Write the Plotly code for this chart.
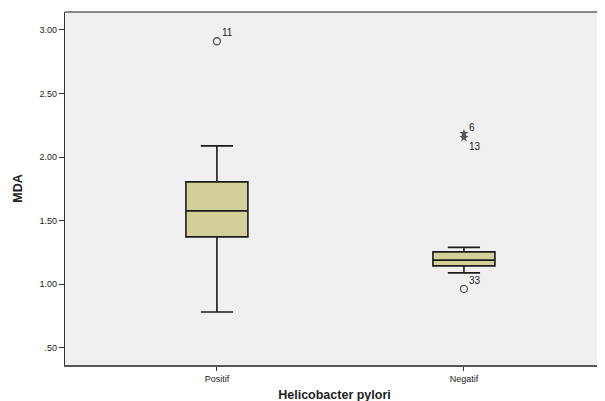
import plotly.graph_objects as go

categories = ["Positif", "Negatif"]
q1 = [1.373, 1.145]
median = [1.577, 1.19]
q3 = [1.805, 1.255]
lower_whisker = [0.783, 1.09]
upper_whisker = [2.088, 1.29]

outlier_cat = [0, 1]
outlier_val = [2.91, 0.964]
outlier_lbl = ["11", "33"]

extreme_cat = [1, 1]
extreme_val = [2.185, 2.153]
extreme_lbl = ["6", "13"]

ytick_vals = [0.5, 1.0, 1.5, 2.0, 2.5, 3.0]
ytick_text = [".50", "1.00", "1.50", "2.00", "2.50", "3.00"]

fig = go.Figure()

fig.add_trace(go.Box(
    x=[0, 1], q1=q1, median=median, q3=q3,
    lowerfence=lower_whisker, upperfence=upper_whisker,
    width=0.251, whiskerwidth=0.52,
    fillcolor="#d3cf98", line=dict(color="#1c1c1c", width=1.6),
    boxpoints=False, showlegend=False, hoverinfo="skip",
))

fig.add_trace(go.Scatter(
    x=outlier_cat, y=outlier_val, mode="markers",
    marker=dict(symbol="circle-open", size=7, color="#555555", line=dict(width=1.3)),
    showlegend=False, hoverinfo="skip",
))
fig.add_trace(go.Scatter(
    x=extreme_cat, y=extreme_val, mode="markers",
    marker=dict(symbol="star", size=7, color="#555555"),
    showlegend=False, hoverinfo="skip",
))

text_font = dict(family="Liberation Sans, Arial, sans-serif", size=10, color="#222222")
for c, v, t in zip(outlier_cat, outlier_val, outlier_lbl):
    fig.add_annotation(x=c, y=v, text=t, showarrow=False, xanchor="left", yanchor="bottom",
                       xshift=3, yshift=1, font=text_font)
fig.add_annotation(x=extreme_cat[0], y=extreme_val[0], text=extreme_lbl[0], showarrow=False,
                   xanchor="left", yanchor="bottom", xshift=3, yshift=-1, font=text_font)
fig.add_annotation(x=extreme_cat[1], y=extreme_val[1], text=extreme_lbl[1], showarrow=False,
                   xanchor="left", yanchor="top", xshift=3, yshift=-1, font=text_font)

fig.update_layout(
    width=605, height=401,
    margin=dict(l=57, r=9, t=4, b=44),
    paper_bgcolor="white", plot_bgcolor="#f0f0f0",
    font=dict(family="Liberation Sans, Arial, sans-serif", size=9, color="#222222"),
    xaxis=dict(
        range=[-0.615, 1.567], tickvals=[0, 1], ticktext=categories,
        showgrid=False, zeroline=False, ticks="outside", ticklen=4, tickcolor="#333",
        showline=True, linecolor="#555555", linewidth=1.5, mirror=False,
        title=dict(text="<b>Helicobacter pylori</b>", font=dict(size=12.5), standoff=8),
    ),
    yaxis=dict(
        range=[0.366, 3.14], tickvals=ytick_vals, ticktext=ytick_text,
        showgrid=False, zeroline=False, ticks="outside", ticklen=5, tickcolor="#333",
        showline=True, linecolor="#333333", linewidth=1.2,
        title=dict(text="<b>MDA</b>", font=dict(size=12.5), standoff=14),
    ),
)
fig.add_shape(type="line", xref="paper", yref="paper", x0=0, x1=1, y0=1, y1=1,
              line=dict(color="#888888", width=2))
fig.add_shape(type="line", xref="paper", yref="paper", x0=1, x1=1, y0=0, y1=1,
              line=dict(color="#dddddd", width=1))

fig.write_html("out.html")
